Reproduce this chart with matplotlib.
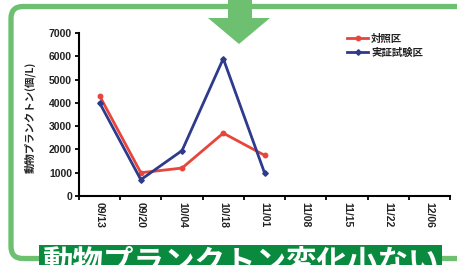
import matplotlib.pyplot as plt
import numpy as np
from matplotlib.patches import FancyBboxPatch, Polygon, Rectangle
from matplotlib.transforms import IdentityTransform

plt.rcParams['font.family'] = ['Noto Sans CJK JP', 'DejaVu Sans']

dates = ['09/13', '09/20', '10/04', '10/18', '11/01', '11/08', '11/15', '11/22', '12/06']
control = [4300, 1000, 1200, 2700, 1750]
trial = [4000, 700, 1950, 5900, 1000]
series_names = ['対照区', '実証試験区']
ylabel = '動物プランクトン(個/L)'
banner = '動物プランクトン変化小ない'

W, H = 457, 265
fig = plt.figure(figsize=(W / 100, H / 100), dpi=100)
green = '#6cc070'

# rounded frame, drawn in pixel units (origin bottom-left)
frame = FancyBboxPatch((11, H - 258.5), W + 20 - 11, 258.5 - 6.5,
                       boxstyle='round,pad=0,rounding_size=12', transform=IdentityTransform(),
                       fill=False, ec=green, lw=3.8, zorder=1)
fig.patches.append(frame)

# arrow at top
arrow = Polygon([(228, H), (252, H), (252, H - 18), (270, H - 18),
                 (239, H - 44), (208, H - 18), (228, H - 18)],
                closed=True, transform=IdentityTransform(), fc=green, ec='none', zorder=3)
fig.patches.append(arrow)

ax = fig.add_axes([79 / W, 1 - 196 / H, (450 - 79) / W, (196 - 33) / H])
ax.set_zorder(2)
ax.patch.set_alpha(0)

x = np.arange(len(control))
ax.plot(x, control, color='#e8453c', lw=2.0, marker='o', ms=3.2, label=series_names[0])
ax.plot(x, trial, color='#2e3a8c', lw=2.0, marker='D', ms=2.8, label=series_names[1])

ax.set_xlim(-0.5, len(dates) - 0.5)
ax.set_ylim(0, 7000)
ax.set_yticks(np.arange(0, 7001, 1000))
ax.set_xticks(np.arange(-0.5, len(dates), 1.0))
ax.set_xticklabels([])
ax.set_xticks(np.arange(len(dates)), minor=True)
ax.set_xticklabels(dates, minor=True, rotation=-90, fontsize=7.5, fontweight='bold',
                   family=['Liberation Sans', 'DejaVu Sans'], color='#222222')
ax.tick_params(axis='x', which='minor', length=0, pad=4)
ax.tick_params(axis='x', which='major', length=3, width=1.3, direction='out')
ax.tick_params(axis='y', length=3, width=1.3, direction='out', labelsize=7.5, pad=2,
               labelcolor='#222222')
for lab in ax.get_yticklabels():
    lab.set_fontweight('bold')
    lab.set_family(['Liberation Sans', 'DejaVu Sans'])
for s in ['top', 'right']:
    ax.spines[s].set_visible(False)
for s in ['left', 'bottom']:
    ax.spines[s].set_linewidth(1.5)

fig.text(30 / W, 1 - 117 / H, ylabel, rotation=90, ha='center', va='center', fontsize=7.5,
         fontweight='bold', color='#222222')

leg = ax.legend(loc='upper left', bbox_to_anchor=((343 - 79) / (450 - 79), 1.02),
                frameon=False, fontsize=7.5, handlelength=2.0, handletextpad=0.3,
                labelspacing=0.35, borderaxespad=0)
for t in leg.get_texts():
    t.set_fontweight('bold')
    t.set_color('#222222')

# banner
fig.patches.append(Rectangle((39, 0), 442 - 39, H - 245,
                             transform=IdentityTransform(), fc='#0a8a3e', ec='none', zorder=4))
fig.text(42 / W, 1 - 247 / H, banner, ha='left', va='top', fontsize=22, fontweight='bold',
         color='white', zorder=5)

fig.savefig('out.png', dpi=100)
